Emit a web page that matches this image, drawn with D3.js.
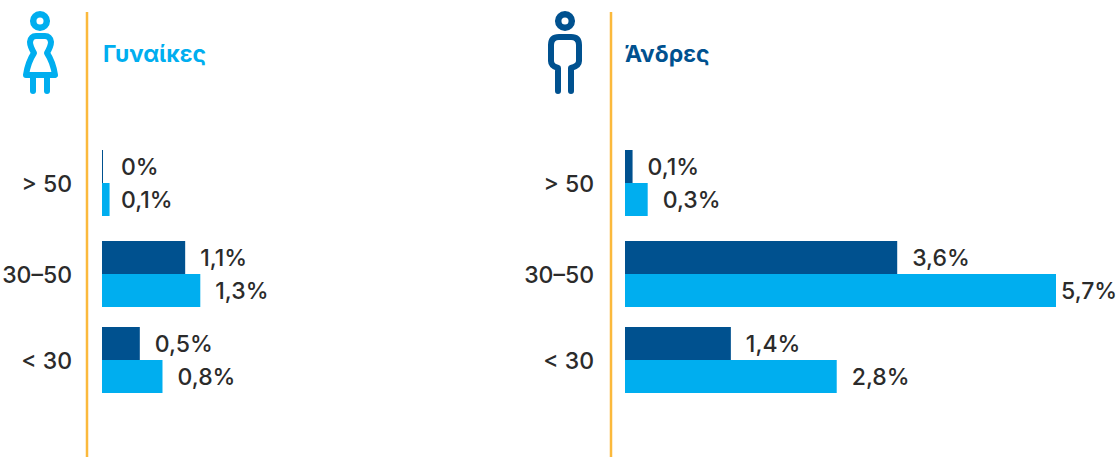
<!DOCTYPE html>
<html><head><meta charset="utf-8">
<script src="https://cdn.jsdelivr.net/npm/d3@7"></script>
<style>html,body{margin:0;background:#fff}svg{display:block}text{font-family:Inter,sans-serif}</style>
</head><body><svg id="c" width="1118" height="457"></svg>
<script>
const categories = ["> 50","30–50","< 30"];
const womenDark = [0,1.1,0.5];
const womenLight = [0.1,1.3,0.8];
const menDark = [0.1,3.6,1.4];
const menLight = [0.3,5.7,2.8];
const womenDarkLabels = ["0%","1,1%","0,5%"];
const womenLightLabels = ["0,1%","1,3%","0,8%"];
const menDarkLabels = ["0,1%","3,6%","1,4%"];
const menLightLabels = ["0,3%","5,7%","2,8%"];
const DARK="#00518f", LIGHT="#00aeef", ORANGE="#fbb93c", INK="#2b2b2b";
const svg=d3.select("#c");
const y=d3.scaleOrdinal().domain(categories).range([183,274,360]);
const barH=33;
function panel(o){
  const x=d3.scaleLinear().domain([0,5.7]).range([o.x0,o.x0+431]);
  const labelX=d=>{
    if(o.smallX&&d<=0.1) return o.smallX;
    return Math.min(x(d)+15,1061);
  };
  const g=svg.append("g");
  g.append("line").attr("x1",o.rule).attr("x2",o.rule).attr("y1",12).attr("y2",457)
    .attr("stroke",ORANGE).attr("stroke-width",2.5);
  g.append("text").attr("x",o.titleX).attr("y",62).attr("fill",o.titleColor)
    .attr("font-size",23).attr("font-weight",700).text(o.title);
  g.selectAll("text.cat").data(categories).join("text").attr("class","cat")
    .attr("x",o.catX).attr("y",d=>y(d)+8.5).attr("text-anchor","end")
    .attr("font-size",23).attr("font-weight",500).attr("fill",INK).text(d=>d);
  [[o.dark,DARK,-barH,o.darkLabels],[o.light,LIGHT,0,o.lightLabels]].forEach(([vals,col,dy,labs])=>{
    g.append("g").selectAll("rect").data(vals).join("rect")
      .attr("x",o.x0).attr("y",(d,i)=>y(categories[i])+dy)
      .attr("width",d=>Math.max(1,x(d)-o.x0)).attr("height",barH).attr("fill",col);
    g.append("g").selectAll("text").data(vals).join("text")
      .attr("x",labelX).attr("y",(d,i)=>y(categories[i])+dy+barH/2+8.5)
      .attr("font-size",23).attr("font-weight",500).attr("fill",INK).text((d,i)=>labs[i]);
  });
  const ic=g.append("g").attr("fill","none").attr("stroke",o.titleColor)
    .attr("stroke-width",6).attr("stroke-linecap","round").attr("stroke-linejoin","round");
  ic.append("circle").attr("cx",o.headX).attr("cy",21).attr("r",6.8).attr("stroke-width",6.5);
  o.icon.forEach(p=>ic.append("path").attr("d",p));
}
panel({x0:102,rule:87,title:"Γυναίκες",titleX:103,titleColor:LIGHT,catX:72,smallX:121,
  dark:womenDark,light:womenLight,darkLabels:womenDarkLabels,lightLabels:womenLightLabels,
  headX:40,
  icon:["M26 75 Q28 62 34 53 Q30 46 30 42 Q31 36 36 36 H45 Q50 36 51 42 Q51 46 47 53 Q53 62 55 75 Z","M33 75 V91","M47 75 V91"]});
panel({x0:625,rule:611,title:"Άνδρες",titleX:625,titleColor:DARK,catX:594,
  dark:menDark,light:menLight,darkLabels:menDarkLabels,lightLabels:menLightLabels,
  headX:565,
  icon:["M558 91 V68 Q551 66 551 61 V45 Q551 37 559 37 H571 Q579 37 579 45 V61 Q579 66 571 68 V91"]});
</script></body></html>
